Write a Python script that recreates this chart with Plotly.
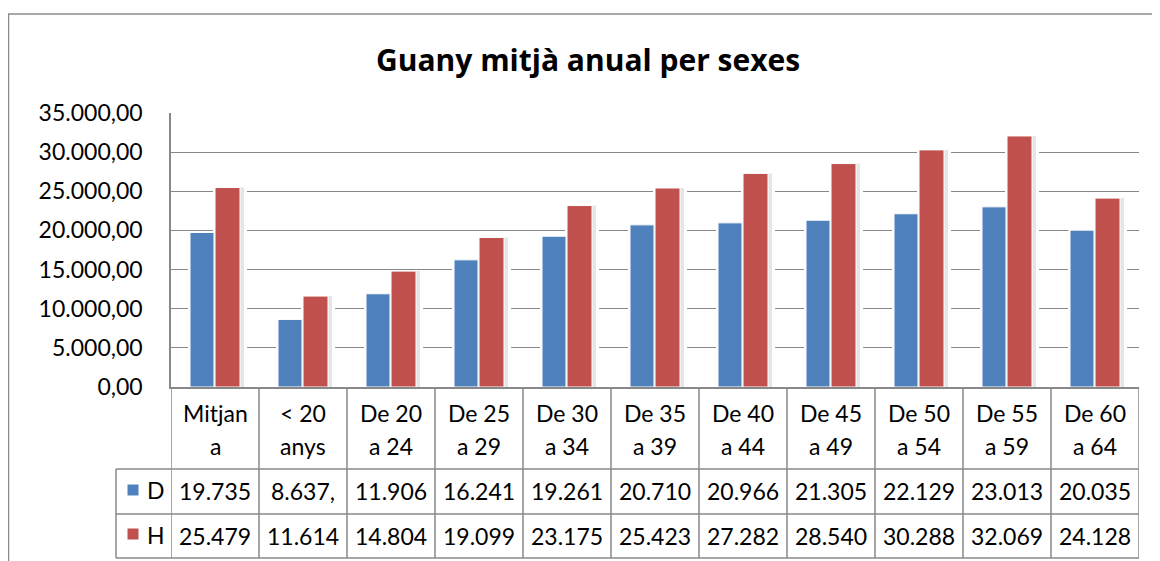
import plotly.graph_objects as go

# ---------------- data ----------------
categories = ["Mitjana", "< 20 anys", "De 20 a 24", "De 25 a 29", "De 30 a 34",
              "De 35 a 39", "De 40 a 44", "De 45 a 49", "De 50 a 54", "De 55 a 59",
              "De 60 a 64"]
series_names = ["D", "H"]
values_d = [19735, 8637, 11906, 16241, 19261, 20710, 20966, 21305, 22129, 23013, 20035]
values_h = [25479, 11614, 14804, 19099, 23175, 25423, 27282, 28540, 30288, 32069, 24128]
colors = ["#4F81BD", "#C0504D"]
y_ticks = [0, 5000, 10000, 15000, 20000, 25000, 30000, 35000]
title_text = "Guany mitjà anual per sexes"

W, H = 1160, 561
OFF = 8  # page body margin
FONT = "Lato"
GRID = "#888888"


def px(x):
    return (x - OFF) / W


def py(y):
    return 1 - (y - OFF) / H


def fmt(v):
    s = f"{v:,.2f}".replace(",", "X").replace(".", ",").replace("X", ".")
    return s[:6]  # cell width truncation as in the original data table


def wrap(label, n=6):
    words = label.split(" ")
    lines, cur = [], ""
    for w in words:
        cand = (cur + " " + w).strip()
        if len(cand) <= n:
            cur = cand
        else:
            if cur:
                lines.append(cur)
            cur = w
            while len(cur) > n:
                lines.append(cur[:n])
                cur = cur[n:]
    if cur:
        lines.append(cur)
    return lines


xs = list(range(len(categories)))
CAT = 88.0  # pixels per category
# bar placement (pixels relative to category centre)
bar_geo = {"D": (-25, 24), "H": (0, 25)}

fig = go.Figure()
# soft halo / shadow behind the bars (Excel-style)
for name, vals in zip(series_names, [values_d, values_h]):
    o, w = bar_geo[name]
    fig.add_trace(go.Bar(x=xs, y=vals, offset=(o - 2) / CAT, width=(w + 9) / CAT,
                         marker=dict(color="white", line=dict(width=0)),
                         hoverinfo="skip", showlegend=False))
for name, vals in zip(series_names, [values_d, values_h]):
    o, w = bar_geo[name]
    fig.add_trace(go.Bar(x=xs, y=vals, offset=(o + 1) / CAT, width=(w + 3) / CAT,
                         marker=dict(color="rgba(0,0,0,0.10)", line=dict(width=0)),
                         hoverinfo="skip", showlegend=False))
for name, vals, col in zip(series_names, [values_d, values_h], colors):
    o, w = bar_geo[name]
    fig.add_trace(go.Bar(x=xs, y=vals, name=name, offset=o / CAT, width=w / CAT,
                         marker=dict(color=col, line=dict(color="white", width=1))))

# plot area pixels (reference coordinates)
L, R, T, B = 171, 1139, 113, 387
ROW1, ROW2, ROW3 = 469, 514, 558
LEGL = 116

shapes = []
shapes.append(dict(type="path", xref="paper", yref="paper",
                   path=f"M {px(8.5)} {py(620)} L {px(8.5)} {py(14)} L {px(1200)} {py(14)}",
                   line=dict(color="#8c8c8c", width=1.5)))
n = len(categories)
for i in range(n + 1):
    shapes.append(dict(type="line", xref="x", yref="paper", x0=i - 0.5, x1=i - 0.5,
                       y0=py(B), y1=py(ROW3), line=dict(color=GRID, width=1.5)))
for yy in [ROW1, ROW2, ROW3]:
    shapes.append(dict(type="line", xref="paper", yref="paper", x0=px(LEGL), x1=px(R),
                       y0=py(yy), y1=py(yy), line=dict(color=GRID, width=1.5)))
shapes.append(dict(type="line", xref="paper", yref="paper", x0=px(LEGL), x1=px(LEGL),
                   y0=py(ROW1), y1=py(ROW3), line=dict(color=GRID, width=1.5)))
for col, yc in zip(colors, [490, 534]):
    shapes.append(dict(type="rect", xref="paper", yref="paper",
                       x0=px(127), x1=px(139), y0=py(yc - 6), y1=py(yc + 6),
                       fillcolor=col, line=dict(color="white", width=1)))

annotations = []
tfont = dict(family=FONT, size=23, color="black")
for i, cat in enumerate(categories):
    for j, ln in enumerate(wrap(cat)):
        annotations.append(dict(x=i, xref="x", y=py(413 + 33 * j), yref="paper",
                                text=ln.replace("<", "&lt;"), showarrow=False,
                                font=tfont, xanchor="center", yanchor="middle"))
    annotations.append(dict(x=i, xref="x", y=py(491), yref="paper", text=fmt(values_d[i]),
                            showarrow=False, font=tfont, xanchor="center", yanchor="middle"))
    annotations.append(dict(x=i, xref="x", y=py(536), yref="paper", text=fmt(values_h[i]),
                            showarrow=False, font=tfont, xanchor="center", yanchor="middle"))
for name, yc in zip(series_names, [490, 535]):
    annotations.append(dict(x=px(145), xref="paper", y=py(yc), yref="paper", text=name,
                            showarrow=False, font=tfont, xanchor="left", yanchor="middle"))
annotations.append(dict(x=px(588), xref="paper", y=py(60), yref="paper",
                        text=f"<b>{title_text}</b>", showarrow=False,
                        xanchor="center", yanchor="middle",
                        font=dict(family="Open Sans", size=30, color="black")))

fig.update_layout(
    width=W, height=H, autosize=False,
    margin=dict(l=0, r=0, t=0, b=0, pad=0, autoexpand=False),
    paper_bgcolor="white", plot_bgcolor="white",
    separators=",.",
    showlegend=False,
    barmode="overlay",
    xaxis=dict(domain=[px(L), px(R)], range=[-0.5, n - 0.5], showticklabels=False,
               showgrid=False, zeroline=False, showline=True, linecolor=GRID,
               linewidth=1.5, ticks="", automargin=False),
    yaxis=dict(domain=[py(B), py(T)], range=[0, 35000], tickvals=y_ticks,
               tickformat=",.2f", showgrid=True, gridcolor=GRID, gridwidth=1.3,
               zeroline=False, showline=True, linecolor=GRID, linewidth=1.5,
               ticks="", ticklabelstandoff=22, automargin=False,
               tickfont=dict(family=FONT, size=23, color="black")),
    shapes=shapes, annotations=annotations,
)

fig.write_html("out.html")
